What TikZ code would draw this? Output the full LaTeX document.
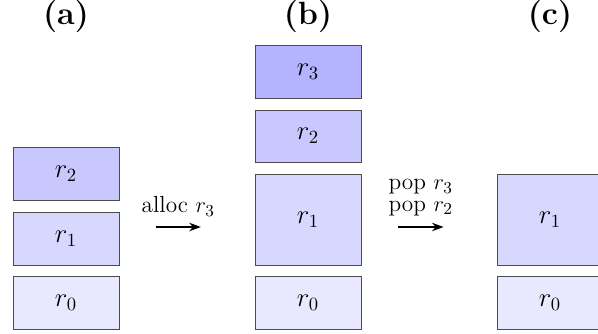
\documentclass[tikz,border=0pt]{standalone}
\usetikzlibrary{arrows.meta}
\definecolor{rzero}{HTML}{E8E8FF}
\definecolor{rone}{HTML}{D8D8FF}
\definecolor{rtwo}{HTML}{C8C8FF}
\definecolor{rthree}{HTML}{B3B3FF}
\tikzset{
  reg/.style={draw=black!70, line width=0.5pt, minimum width=2cm, inner sep=0pt, outer sep=0pt, font=\Large},
  short/.style={reg, minimum height=1cm},
  tall/.style={reg, minimum height=1.717cm},
  panel/.style={font=\LARGE\bfseries},
  op/.style={-{Stealth[length=2.2mm,width=1.6mm]}, line width=0.8pt},
  oplabel/.style={font=\fontsize{12.5}{11.7}\selectfont, align=center, inner sep=1pt}
}
\begin{document}
\begin{tikzpicture}
\useasboundingbox (0,0) rectangle (11.283,6.283);
% (a)
\node[panel] (la) at (1.245,5.98) {(a)};
\node[short, fill=rzero] (a0) at (1.245,0.575) {$r_0$};
\node[short, fill=rone] (a1) at (1.245,1.783) {$r_1$};
\node[short, fill=rtwo] (a2) at (1.245,3.009) {$r_2$};
% (b)
\node[panel] (lb) at (5.811,5.98) {(b)};
\node[short, fill=rzero] (b0) at (5.811,0.575) {$r_0$};
\node[tall, fill=rone] (b1) at (5.811,2.142) {$r_1$};
\node[short, fill=rtwo, minimum height=0.98cm] (b2) at (5.811,3.717) {$r_2$};
\node[short, fill=rthree] (b3) at (5.811,4.934) {$r_3$};
% (c)
\node[panel] (lc) at (10.377,5.98) {(c)};
\node[short, fill=rzero] (c0) at (10.377,0.575) {$r_0$};
\node[tall, fill=rone] (c1) at (10.377,2.142) {$r_1$};
% arrows
\coordinate (s1) at (2.94,2.0);
\coordinate (e1) at (3.79,2.0);
\draw[op] (s1) -- (e1) node[midway, above=4.5pt, oplabel] {alloc $r_3$};
\coordinate (s2) at (7.51,2.0);
\coordinate (e2) at (8.37,2.0);
\draw[op] (s2) -- (e2) node[midway, above=4.5pt, oplabel] {pop $r_3$\\pop $r_2$};
\end{tikzpicture}
\end{document}
